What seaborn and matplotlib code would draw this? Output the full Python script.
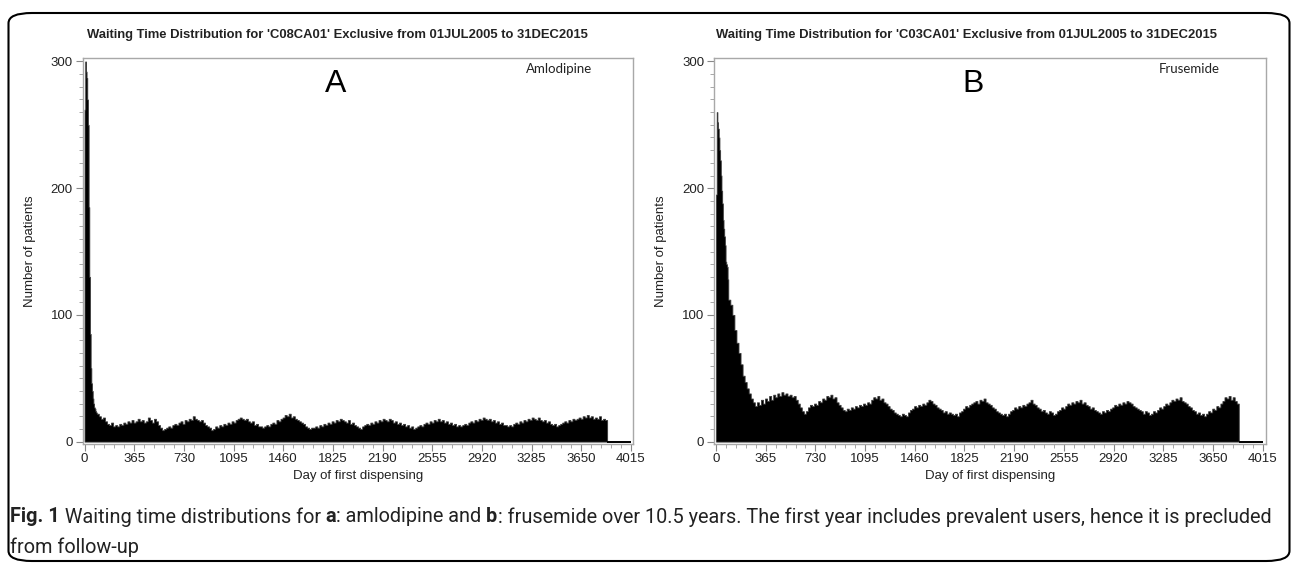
import numpy as np
import pandas as pd
import matplotlib
matplotlib.use("Agg")
import matplotlib.pyplot as plt
from matplotlib.patches import FancyBboxPatch
from matplotlib.ticker import MultipleLocator
import matplotlib.font_manager as fm
import seaborn as sns

# ---------------- data ----------------
# daily counts averaged over bins: 5-day bins for days 0-90, then 15-day bins to day 3840
HEAD_WIDTH = 5
TAIL_WIDTH = 15
HEAD_END = 90
DATA_END = 3840

amlodipine_head = [262, 300, 292, 287, 270, 250, 185, 130, 85, 58, 46, 40, 34, 30, 27, 26, 24, 23]
amlodipine_tail = (
    [22, 20, 18, 19, 16, 14, 13, 15, 12, 13] +
    [12, 14, 13, 15, 14, 16, 15, 17, 15, 16] +
    [18, 16, 17, 15, 16, 19, 17, 15, 18, 16] +
    [13, 11, 9, 10, 11, 12, 11, 13, 14, 13] +
    [15, 16, 14, 17, 16, 18, 17, 20, 18, 17] +
    [16, 17, 15, 13, 12, 11, 9, 10, 12, 11] +
    [13, 12, 14, 13, 15, 14, 16, 15, 17, 18] +
    [19, 18, 17, 18, 16, 15, 16, 13, 14, 12] +
    [12, 11, 12, 13, 12, 14, 15, 14, 17, 16] +
    [18, 19, 21, 20, 22, 19, 20, 18, 17, 16] +
    [15, 14, 12, 11, 10, 11, 11, 12, 11, 13] +
    [12, 14, 13, 15, 14, 16, 15, 17, 16, 18] +
    [17, 16, 15, 17, 14, 15, 13, 12, 11, 10] +
    [12, 13, 14, 13, 15, 14, 16, 15, 17, 16] +
    [18, 17, 16, 18, 17, 15, 16, 14, 15, 13] +
    [14, 12, 13, 11, 12, 10, 11, 12, 13, 12] +
    [14, 15, 14, 16, 15, 17, 16, 18, 16, 17] +
    [15, 16, 14, 15, 13, 14, 12, 13, 12, 13] +
    [14, 13, 15, 16, 15, 17, 16, 18, 17, 19] +
    [18, 17, 18, 16, 17, 15, 16, 14, 15, 13] +
    [13, 12, 13, 12, 14, 15, 14, 16, 15, 17] +
    [16, 18, 17, 19, 18, 17, 19, 17, 16, 17] +
    [15, 16, 14, 13, 14, 12, 13, 14, 15, 16] +
    [15, 17, 16, 18, 17, 18, 19, 18, 20, 19] +
    [21, 19, 20, 18, 19, 18, 20, 17, 18, 17]
)

frusemide_head = [195, 260, 252, 247, 240, 230, 222, 210, 198, 188, 175, 168, 162, 155, 142, 140, 138, 128]
frusemide_tail = (
    [112, 108, 100, 88, 78, 70, 61, 52, 47, 42] +
    [38, 34, 31, 28, 31, 29, 33, 30, 34, 32] +
    [36, 33, 37, 35, 38, 36, 39, 37, 38, 36] +
    [37, 35, 36, 33, 30, 27, 24, 22, 24, 27] +
    [29, 28, 30, 29, 32, 31, 34, 33, 36, 35] +
    [37, 34, 35, 31, 29, 27, 25, 24, 26, 25] +
    [27, 26, 28, 27, 29, 28, 30, 29, 31, 30] +
    [33, 35, 34, 36, 33, 34, 31, 30, 28, 26] +
    [25, 23, 22, 21, 20, 22, 21, 20, 23, 25] +
    [26, 28, 27, 29, 28, 30, 29, 31, 33, 32] +
    [30, 29, 27, 26, 25, 23, 24, 22, 23, 22] +
    [21, 22, 20, 23, 24, 26, 28, 27, 29, 30] +
    [31, 32, 30, 33, 32, 34, 31, 30, 29, 27] +
    [26, 24, 23, 22, 21, 22, 20, 22, 24, 25] +
    [27, 26, 28, 27, 29, 28, 30, 31, 33, 30] +
    [29, 27, 26, 24, 25, 23, 22, 24, 23, 21] +
    [22, 24, 25, 27, 26, 28, 30, 29, 31, 30] +
    [32, 31, 33, 30, 31, 29, 28, 26, 27, 25] +
    [24, 23, 22, 24, 23, 25, 24, 26, 27, 29] +
    [28, 30, 29, 31, 30, 32, 31, 30, 28, 27] +
    [26, 25, 24, 22, 24, 23, 21, 22, 24, 23] +
    [25, 27, 26, 28, 30, 29, 31, 33, 32, 34] +
    [33, 35, 32, 31, 30, 28, 27, 25, 24, 22] +
    [23, 21, 22, 20, 22, 24, 23, 26, 25, 28] +
    [27, 30, 32, 35, 34, 36, 33, 35, 32, 30]
)

panels = [
    dict(title="Waiting Time Distribution for 'C08CA01' Exclusive from 01JUL2005 to 31DEC2015",
         letter="A", drug="Amlodipine", values=amlodipine_head + amlodipine_tail),
    dict(title="Waiting Time Distribution for 'C03CA01' Exclusive from 01JUL2005 to 31DEC2015",
         letter="B", drug="Frusemide", values=frusemide_head + frusemide_tail),
]

x_ticks = [0, 365, 730, 1095, 1460, 1825, 2190, 2555, 2920, 3285, 3650, 4015]
y_ticks = [0, 100, 200, 300]
x_label = "Day of first dispensing"
y_label = "Number of patients"

edges = np.concatenate([np.arange(0, HEAD_END, HEAD_WIDTH),
                        np.arange(HEAD_END, DATA_END + 1, TAIL_WIDTH)]).astype(float)
centers = (edges[:-1] + edges[1:]) / 2

# ---------------- figure ----------------
sns.set_style("ticks")
plt.rcParams["font.family"] = ["Liberation Sans", "DejaVu Sans"]

W, H = 1296, 565
fig = plt.figure(figsize=(W / 100, H / 100), dpi=100)

def fx(px):
    return px / W

def fy(py):
    return 1 - py / H

axes_px = [(82.5, 633, 58.3, 443.5, (-15, 4030)), (714, 1266, 58.3, 443.5, (-15, 4040))]
title_cx = [337, 966]
letter_pos = [(336, 84), (973, 84)]
drug_pos = [(592, 69), (1220, 69)]

GRAY = "#a8a8a8"
TXT = "#222222"

for p, (l, r, t, b, xl), tcx, lp, dp in zip(panels, axes_px, title_cx, letter_pos, drug_pos):
    ax = fig.add_axes([fx(l), fy(b), fx(r - l), (b - t) / H])
    vals = np.array(p["values"], dtype=float)
    assert len(vals) == len(centers)
    df = pd.DataFrame({"day": centers, "n": vals})
    sns.histplot(data=df, x="day", weights="n", bins=list(edges), ax=ax,
                 element="step", fill=True, color="black", alpha=1,
                 edgecolor="#3a3a3a", linewidth=0.6)
    ax.hlines(0, edges[-1], x_ticks[-1], color="black", lw=1.4)
    ax.set_xlim(*xl)
    ax.set_ylim(-1.5, 302.5)
    ax.set_xticks(x_ticks)
    ax.set_yticks(y_ticks)
    ax.xaxis.set_minor_locator(MultipleLocator(73))
    ax.yaxis.set_minor_locator(MultipleLocator(10))
    for s in ax.spines.values():
        s.set_color(GRAY)
        s.set_linewidth(1.0)
        s.set_visible(True)
    ax.tick_params(which="major", length=5, width=0.8, color="#888888",
                   labelsize=9.5, labelcolor=TXT, pad=2)
    ax.tick_params(which="minor", length=3, width=0.6, color="#999999")
    ax.set_xlabel(x_label, fontsize=9.5, color=TXT)
    ax.set_ylabel(y_label, fontsize=9.5, color=TXT)
    ax.xaxis.set_label_coords(0.5, -0.068)
    ax.yaxis.set_label_coords(-0.085, 0.5)

    fig.text(fx(tcx), fy(38.3), p["title"], ha="center", va="baseline",
             fontsize=9.35, fontweight="bold", color=TXT)
    fig.text(fx(lp[0]), fy(lp[1]), p["letter"], ha="center", va="center",
             fontsize=23, color="black")
    fig.text(fx(dp[0]), fy(dp[1]), p["drug"], ha="right", va="center",
             fontsize=9.5, color=TXT, family=["Lato", "DejaVu Sans"])

# caption with mixed weights
renderer = fig.canvas.get_renderer()
names = {f.name for f in fm.fontManager.ttflist}
cap_family = [f for f in ["Liberation Sans Narrow", "Roboto", "DejaVu Sans"] if f in names] or ["DejaVu Sans"]

def runs(x_px, y_px, parts, size):
    x = x_px
    for txt, wt in parts:
        tt = fig.text(fx(x), fy(y_px), txt, ha="left", va="center", fontsize=size,
                      fontweight=wt, color="#222222", family=cap_family)
        bb = tt.get_window_extent(renderer)
        x += bb.width

CAP = 14.3
runs(10, 517, [("Fig. 1", "bold"), (" Waiting time distributions for ", "normal"), ("a", "bold"),
               (": amlodipine and ", "normal"), ("b", "bold"),
               (": frusemide over 10.5 years. The first year includes prevalent users, hence it is precluded", "normal")], CAP)
runs(10, 547, [("from follow-up", "normal")], CAP)

box = FancyBboxPatch((fx(8.5), fy(561)), fx(1281), (561 - 13) / H,
                     boxstyle="round,pad=0,rounding_size=0.018", transform=fig.transFigure,
                     fill=False, edgecolor="black", linewidth=1.5)
fig.patches.append(box)

fig.savefig("out.png", dpi=100)
